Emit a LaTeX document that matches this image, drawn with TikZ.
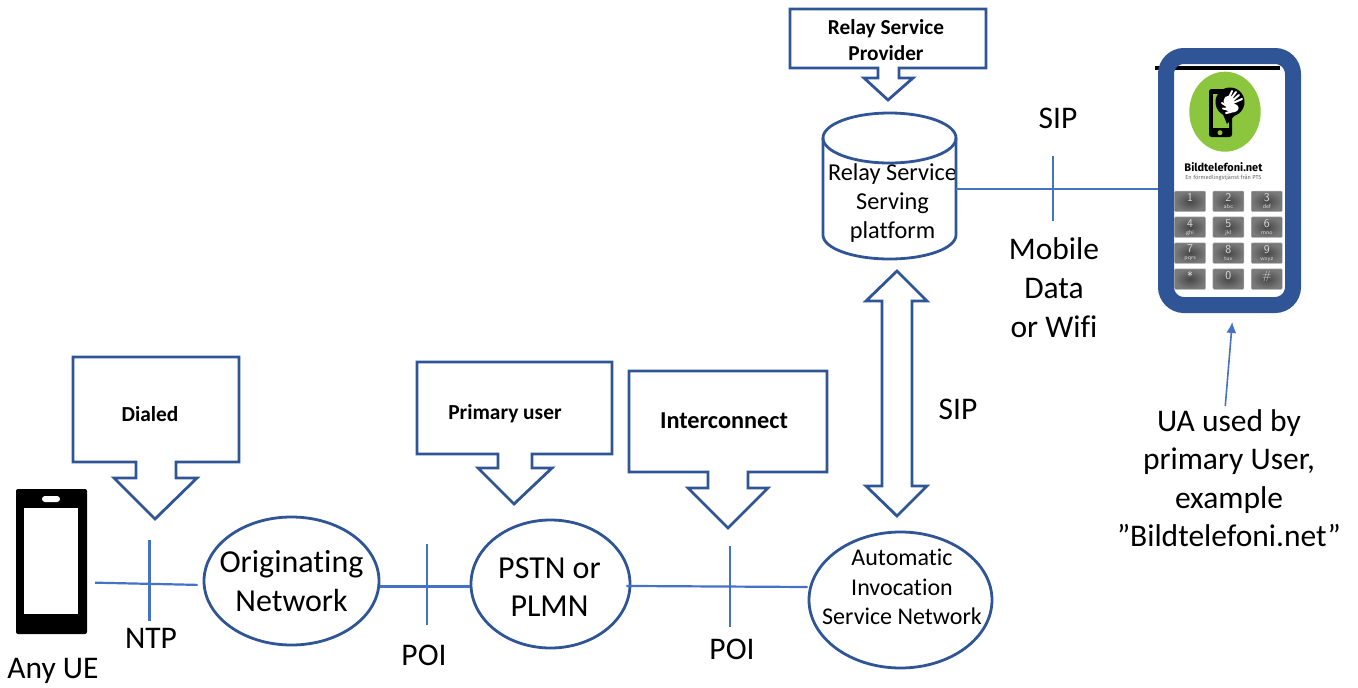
\documentclass[tikz,border=0pt]{standalone}
\usepackage{fontspec}
\setmainfont[Ligatures=NoCommon]{Carlito}
\newfontfamily\logofont{Fira Sans}
\usetikzlibrary{shapes.geometric, arrows.meta}
\definecolor{outline}{HTML}{2F5597}
\definecolor{wirecol}{HTML}{4472C4}
\definecolor{logogreen}{HTML}{8CC63F}
\tikzset{>={Latex[length=11pt,width=10pt]},
    net/.style={ellipse, draw=outline, line width=2.8pt, inner sep=-20pt, align=center},
    callout/.style={draw=outline, line width=2.8pt, fill=white, line join=miter},
    wire/.style={draw=wirecol, line width=2.2pt},
    lbl/.style={align=center, inner sep=0pt, font=\fontsize{31.5}{38.5}\selectfont},
    tag/.style={align=center, inner sep=0pt, font=\bfseries\fontsize{#1}{26}\selectfont},
    keybox/.style={rounded corners=1pt, inner color=black!72, outer color=black!52, draw=black!30, line width=.5pt,
        minimum width=31pt, minimum height=20.5pt, inner sep=0pt}}

\begin{document}
\begin{tikzpicture}[x=1pt, y=-1pt]
    \useasboundingbox (0,0) rectangle (1358,688);

    % handset on the left
    \node[fill=black, rounded corners=2pt, minimum width=71pt, minimum height=145pt, inner sep=0pt] (anyue) at (51.5,561.5) {};
    \fill[white] (24.3,508) rectangle (78.3,614);
    \fill[white, rounded corners=3pt] (42,496) rectangle (60,502);
    \node[lbl] (anyuelbl) at (53,671) {Any UE};

    % networks
    \node[net, minimum width=175pt, minimum height=128pt, font=\fontsize{32}{39}\selectfont] (orig) at (291.5,581) {Originating\\Network};
    \node[net, minimum width=159pt, minimum height=128pt,
          label={[align=center, xshift=-1pt, yshift=-3pt, font=\fontsize{32}{38}\selectfont]center:PSTN or\\PLMN}] (pstn) at (550.5,584) {};
    \node[net, minimum width=183pt, minimum height=136pt,
          label={[align=center, xshift=1.5pt, yshift=13pt, font=\fontsize{24}{29.5}\selectfont]center:Automatic\\Invocation\\Service Network}] (auto) at (900.5,600) {};

    % relay platform
    \node[minimum width=133pt, minimum height=146pt, inner sep=0pt,
          label={[align=center, xshift=3pt, yshift=-17pt, font=\fontsize{24.3}{28.8}\selectfont]center:Relay Service\\Serving\\platform}] (relay) at (889.5,186) {};
    \draw[draw=outline, line width=2.8pt] (823,138) -- (823,235) arc [start angle=180, end angle=0, x radius=66.5, y radius=24] -- (956,138);
    \draw[draw=outline, line width=2.8pt] (889.5,138) ellipse [x radius=66.5, y radius=25];

    % callouts
    \draw[callout] (73,357) -- (239,357) -- (239,462) -- (176,462) -- (176,478) -- (197,478) -- (155,519)
        -- (114,478) -- (136,478) -- (136,462) -- (73,462) -- cycle;
    \draw[callout] (417,362) -- (612,362) -- (612,454) -- (532,454) -- (532,468) -- (552,468) -- (514,504)
        -- (478,468) -- (498,468) -- (498,454) -- (417,454) -- cycle;
    \draw[callout] (629,371) -- (827,371) -- (827,472) -- (748,472) -- (748,488) -- (768,488) -- (728,528)
        -- (688,488) -- (708,488) -- (708,472) -- (629,472) -- cycle;
    \draw[callout] (790,9) -- (986,9) -- (986,68) -- (899,68) -- (899,78) -- (913,78) -- (888,100)
        -- (864,78) -- (878,78) -- (878,68) -- (790,68) -- cycle;
    \node[tag=21.4] (dialed) at (150,414) {Dialed};
    \node[tag=21.4] (primary) at (505,414) {Primary user};
    \node[tag=24.3] (inter) at (724,421) {Interconnect};
    \node[tag=21.3] (provider) at (886,40) {Relay Service\\Provider};

    % SIP between platform and invocation network
    \draw[callout] (897,271) -- (927,301) -- (912,301) -- (912,486) -- (927,486) -- (897,516)
        -- (866,486) -- (882,486) -- (882,301) -- (866,301) -- cycle;

    % phone with the app
    \fill[black] (1155,66) rectangle (1280,69.5);
    \node[draw=outline, line width=16pt, rounded corners=18pt, minimum width=127pt, minimum height=249pt, inner sep=0pt] (uaphone) at (1229.5,180.5) {};
    \fill[logogreen] (1225,111.7) ellipse [x radius=35.7, y radius=40];
    \fill[black, rounded corners=2.5pt] (1209,89) rectangle (1232,137);
    \fill[logogreen] (1212.5,94) rectangle (1228.5,128);
    \fill[logogreen] (1220,132.7) circle [radius=2.5];
    \fill[black] (1230,102) circle [radius=14.5];
    \fill[black] (1222,112) -- (1227,124) -- (1236,114) -- cycle;
    \fill[white] (1229,101) circle [radius=5.5];
    \fill[white] (1232,108) ellipse [x radius=6.5, y radius=4.5];
    \draw[white, line width=2pt, line cap=round]
        (1228,100) -- (1232,91) (1230,100) -- (1236,92) (1232,101) -- (1239,95) (1233,103) -- (1242,99)
        (1230,108) -- (1222,103) (1230,110) -- (1223,108.5) (1231,112) -- (1226,113);
    \node[inner sep=0pt, font=\logofont\bfseries\fontsize{11}{13}\selectfont] (logoname) at (1223.5,167) {Bildtelefoni.net};
    \node[inner sep=0pt, text=black!60, font=\logofont\fontsize{5.7}{7}\selectfont] (logosub) at (1223.5,177.5) {En förmedlingstjänst från PTS};

    % keypad
    \foreach \k/\m/\col/\row in {1//0/0, 2/abc/1/0, 3/def/2/0, 4/ghi/0/1, 5/jkl/1/1, 6/mno/2/1,
                                 7/pqrs/0/2, 8/tuv/1/2, 9/wxyz/2/2, */ /0/3, 0/ /1/3, \#/ /2/3}
        \node[keybox, text=black!15, align=center, font=\sffamily\fontsize{12}{8}\selectfont]
            (key\col\row) at (1190+38.4*\col, 201.3+25.9*\row) {\k\\[-1pt]{\fontsize{6}{6}\selectfont\m}};

    % connectors
    \draw[wire, shorten <=8pt, shorten >=5pt] ([yshift=-21pt]anyue.east) -- ([yshift=-4pt]orig.west);
    \draw[wire] ([yshift=-5.5pt]orig.east) -- ([yshift=-2.5pt]pstn.west);
    \draw[wire, shorten <=-5pt] ([yshift=-2pt]pstn.east) -- ([yshift=13pt]auto.west);
    \draw[wire] ([yshift=-3pt]relay.east) -- ([yshift=-8.5pt]uaphone.west);

    % reference point ticks
    \coordinate (ntptop) at (149.5,540);
    \coordinate (ntpbot) at (149.5,621);
    \coordinate (poiatop) at (427,544);
    \coordinate (poiabot) at (427,625);
    \coordinate (poibtop) at (730,546);
    \coordinate (poibbot) at (730,627);
    \coordinate (siptop) at (1053,156);
    \coordinate (sipbot) at (1053,221);
    \draw[wire] (ntptop) -- (ntpbot);
    \draw[wire] (poiatop) -- (poiabot);
    \draw[wire] (poibtop) -- (poibbot);
    \draw[wire] (siptop) -- (sipbot);

    % labels
    \node[lbl] (ntp) at (151,638) {NTP};
    \node[lbl] (poia) at (424,655) {POI};
    \node[lbl] (poib) at (732,649) {POI};
    \node[lbl] (sipa) at (1058,118) {SIP};
    \node[lbl] (sipb) at (958,409) {SIP};
    \node[lbl, font=\fontsize{31.5}{39}\selectfont] (mobile) at (1054,288) {Mobile\\Data\\or Wifi};
    \node[lbl] (ua) at (1229,478) {UA used by\\primary User,\\example\\”Bildtelefoni.net”};

    \draw[wire, line width=1.6pt, ->, shorten <=3pt, shorten >=9pt] ([xshift=-4pt]ua.north) -- ([xshift=3.5pt]uaphone.south);
\end{tikzpicture}
\end{document}
